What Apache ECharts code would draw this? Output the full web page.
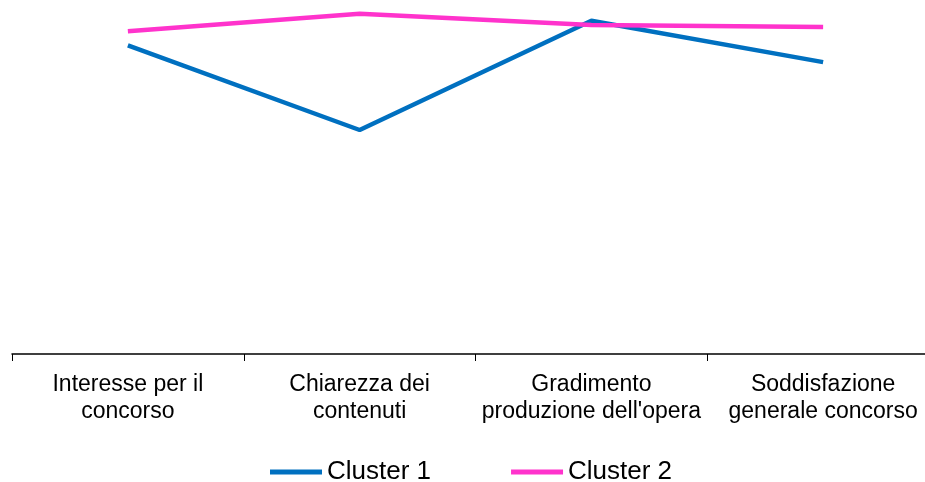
<!DOCTYPE html>
<html>
<head>
<meta charset="utf-8">
<script src="https://cdn.jsdelivr.net/npm/echarts@6/dist/echarts.min.js"></script>
<style>
html,body{margin:0;padding:0;background:#fff;}
#c{width:925px;height:482px;}
</style>
</head>
<body>
<div id="c"></div>
<script>
var categories = ["Interesse per il\nconcorso", "Chiarezza dei\ncontenuti", "Gradimento\nproduzione dell'opera", "Soddisfazione\ngenerale concorso"];
var cluster1 = [4.41, 3.20, 4.76, 4.17];
var cluster2 = [4.61, 4.86, 4.70, 4.67];
var seriesNames = ["Cluster 1", "Cluster 2"];

var chart = echarts.init(document.getElementById('c'), null, {renderer: 'canvas'});
chart.setOption({
  animation: false,
  backgroundColor: '#ffffff',
  grid: {left: 12, right: -14, top: 4, bottom: 128, containLabel: false, outerBoundsMode: 'none'},
  xAxis: {
    type: 'category',
    data: categories,
    boundaryGap: true,
    axisLine: {lineStyle: {color: '#000000', width: 1.5}},
    axisTick: {show: true, length: 7, alignWithLabel: false, lineStyle: {color: '#000000', width: 1}},
    axisLabel: {color: '#000000', fontFamily: 'Liberation Sans, Arial, sans-serif', fontSize: 23, lineHeight: 27, margin: 17, interval: 0}
  },
  yAxis: {
    type: 'value', min: 0, max: 5,
    show: false,
    splitLine: {show: false}
  },
  legend: {
    left: 270, top: 459, padding: 0,
    itemWidth: 52, itemHeight: 5, itemGap: 80,
    icon: 'rect',
    textStyle: {color: '#000000', fontFamily: 'Liberation Sans, Arial, sans-serif', fontSize: 26},
    data: seriesNames
  },
  series: [
    {name: seriesNames[0], type: 'line', data: cluster1, symbol: 'none', color: '#0070C0', lineStyle: {color: '#0070C0', width: 4.5}},
    {name: seriesNames[1], type: 'line', data: cluster2, symbol: 'none', color: '#FF33CC', lineStyle: {color: '#FF33CC', width: 4.5}}
  ]
});
</script>
</body>
</html>
